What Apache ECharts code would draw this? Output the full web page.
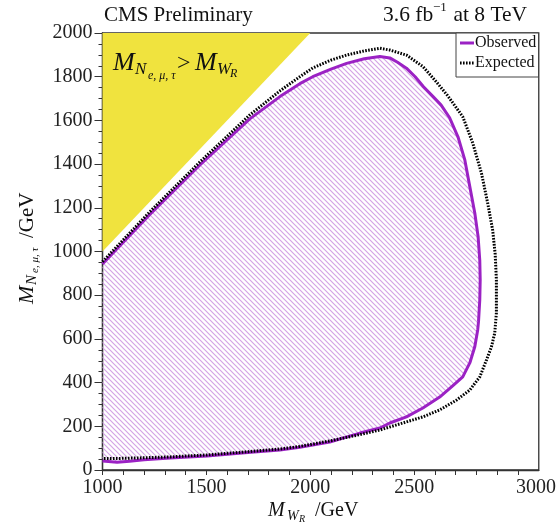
<!DOCTYPE html>
<html>
<head>
<meta charset="utf-8">
<script src="https://cdn.jsdelivr.net/npm/echarts@6/dist/echarts.min.js"></script>
<style>
  html, body { margin: 0; padding: 0; background: #fff; }
  #chart { width: 559px; height: 529px; }
</style>
</head>
<body>
<div id="chart"></div>
<script>
// Axis ticks and labels
const xLabelValues = [1000, 1500, 2000, 2500, 3000];
const xTickValues = [1000, 1100, 1200, 1300, 1400, 1500, 1600, 1700, 1800, 1900, 2000,
                     2100, 2200, 2300, 2400, 2500, 2600, 2700, 2800, 2900, 3000];
const yLabelValues = [0, 200, 400, 600, 800, 1000, 1200, 1400, 1600, 1800, 2000];

// Kinematically forbidden corner: M_N > M_WR
const forbiddenCorner = [[1000, 1000], [1000, 2000], [2000, 2000]];

// Observed 95% CL exclusion contour (M_WR, M_N) in GeV
const observed = [
  [1000, 943], [1228, 1170], [1469, 1396], [1709, 1607], [1854, 1709],
  [1950, 1768], [2012, 1800], [2100, 1835], [2175, 1861], [2260, 1882],
  [2335, 1892], [2383, 1886], [2420, 1866], [2463, 1839], [2505, 1800],
  [2545, 1754], [2590, 1710], [2630, 1670], [2671, 1612], [2711, 1525],
  [2744, 1419], [2768, 1297], [2792, 1176], [2808, 1068], [2816, 960],
  [2818, 870], [2816, 778], [2810, 680], [2806, 641], [2792, 564],
  [2768, 490], [2734, 426], [2680, 380], [2623, 334], [2542, 284],
  [2463, 243], [2383, 215], [2335, 192], [2239, 169], [2094, 128],
  [1950, 104], [1854, 92], [1700, 80], [1503, 64], [1325, 55],
  [1200, 47], [1130, 40], [1070, 36], [1000, 41]
];

// Expected 95% CL exclusion contour (M_WR, M_N) in GeV
const expected = [
  [1000, 953], [1228, 1182], [1469, 1410], [1709, 1625], [1854, 1735],
  [1950, 1800], [2012, 1840], [2100, 1876], [2175, 1899], [2260, 1918],
  [2335, 1930], [2383, 1922], [2463, 1899], [2543, 1846], [2608, 1775],
  [2660, 1715], [2734, 1617], [2782, 1497], [2824, 1359], [2854, 1222],
  [2878, 1098], [2890, 990], [2896, 870], [2896, 719], [2888, 627],
  [2872, 563], [2848, 503], [2816, 426], [2768, 366], [2704, 320],
  [2623, 275], [2542, 243], [2463, 220], [2383, 197], [2335, 183],
  [2239, 162], [2094, 133], [1950, 108], [1854, 96], [1700, 84],
  [1503, 69], [1325, 60], [1200, 56], [1084, 53], [1000, 53]
];

const SERIF = '"Liberation Serif", "DejaVu Serif", serif';
const PURPLE = '#9b22c4';
const YELLOW = 'rgb(240, 227, 62)';
const DOTS = [1.6, 1.4];

// Diagonal hatch tile used to fill the excluded region
function hatchTile() {
  const s = 5;
  const c = document.createElement('canvas');
  c.width = s; c.height = s;
  const g = c.getContext('2d');
  g.strokeStyle = 'rgb(212, 164, 230)';
  g.lineWidth = 1.2;
  g.beginPath();
  g.moveTo(-1, -1); g.lineTo(s + 1, s + 1);
  g.moveTo(s - 1, -1); g.lineTo(s + 1, 1);
  g.moveTo(-1, s - 1); g.lineTo(1, s + 1);
  g.stroke();
  return c;
}
const hatch = hatchTile();

function polygonSeries(points, style, z) {
  return {
    type: 'custom',
    coordinateSystem: 'cartesian2d',
    data: [[points[0][0], points[0][1]]],
    silent: true,
    z: z,
    renderItem: function (params, api) {
      return {
        type: 'polygon',
        shape: { points: points.map(p => api.coord(p)) },
        style: style
      };
    }
  };
}

function txt(x, y, s, size, extra) {
  return {
    type: 'text', x: x, y: y, silent: true, z: 100,
    style: Object.assign({
      text: s, fontSize: size, fontFamily: SERIF, fill: '#111',
      textAlign: 'left', textVerticalAlign: 'middle'
    }, extra || {})
  };
}
function itxt(x, y, s, size, extra) {
  return txt(x, y, s, size, Object.assign({ fontStyle: 'italic' }, extra || {}));
}

const chart = echarts.init(document.getElementById('chart'), null, { renderer: 'canvas' });

const option = {
  animation: false,
  backgroundColor: '#fff',
  grid: {
    left: 102.5, right: 20, top: 33, bottom: 59,
    show: true, borderColor: '#333', borderWidth: 1.3, backgroundColor: 'transparent'
  },
  xAxis: {
    type: 'value', min: 1000, max: 3100, interval: 500,
    axisLine: { show: true, lineStyle: { color: '#333', width: 1.3 } },
    axisTick: { show: true, length: 5, customValues: xTickValues, lineStyle: { color: '#333', width: 1 } },
    minorTick: { show: false },
    splitLine: { show: false },
    axisLabel: {
      customValues: xLabelValues,
      margin: 8, color: '#222', fontSize: 20, fontFamily: SERIF,
      formatter: function (v) { return v === 3000 ? '{edge|3000}' : String(v); },
      rich: { edge: { fontSize: 20, fontFamily: SERIF, color: '#222', padding: [0, 0, 0, 36] } }
    }
  },
  yAxis: {
    type: 'value', min: 0, max: 2000, interval: 200,
    axisLine: { show: true, lineStyle: { color: '#333', width: 1.3 } },
    axisTick: { show: true, length: 8, lineStyle: { color: '#333', width: 1 } },
    minorTick: { show: true, splitNumber: 4, length: 4, lineStyle: { color: '#333', width: 1 } },
    splitLine: { show: false },
    axisLabel: {
      customValues: yLabelValues,
      margin: 10, color: '#222', fontSize: 20, fontFamily: SERIF,
      formatter: function (v) { return String(v); }
    }
  },
  series: [
    polygonSeries(forbiddenCorner, { fill: YELLOW, stroke: 'none' }, 1),
    polygonSeries(observed, { fill: { type: 'pattern', image: hatch, repeat: 'repeat' }, stroke: 'none' }, 1),
    {
      name: 'Observed', type: 'line', data: observed, symbol: 'none', showSymbol: false,
      lineStyle: { color: PURPLE, width: 3 }, itemStyle: { color: PURPLE }, z: 3
    },
    {
      name: 'Expected', type: 'line', data: expected, symbol: 'none', showSymbol: false,
      lineStyle: { color: '#000', width: 3, type: DOTS }, itemStyle: { color: '#000' }, z: 4
    }
  ],
  graphic: [
    // header
    txt(104, 15, 'CMS Preliminary', 21),
    txt(383, 15, '3.6 fb', 21.5),
    txt(433, 8, '\u22121', 13),
    txt(448, 15, ' at 8 TeV', 21.5),
    // forbidden-region label
    itxt(113, 63, 'M', 26),
    itxt(135, 70, 'N', 17),
    itxt(148, 76, 'e, \u03bc, \u03c4', 12),
    txt(177, 64, '>', 24),
    itxt(195, 63, 'M', 26),
    itxt(217, 70, 'W', 17),
    itxt(230, 74, 'R', 12),
    // legend
    {
      type: 'rect', z: 100, silent: true,
      shape: { x: 456, y: 33, width: 82.5, height: 44 },
      style: { fill: '#fff', stroke: '#444', lineWidth: 1 }
    },
    {
      type: 'line', z: 101, silent: true,
      shape: { x1: 460, y1: 43, x2: 474, y2: 43 },
      style: { stroke: PURPLE, lineWidth: 3 }
    },
    txt(475, 43, 'Observed', 16),
    {
      type: 'line', z: 101, silent: true,
      shape: { x1: 460, y1: 63, x2: 474, y2: 63 },
      style: { stroke: '#000', lineWidth: 3, lineDash: DOTS }
    },
    txt(475, 63, 'Expected', 16),
    // x axis title
    itxt(268, 511, 'M', 20),
    itxt(287, 516, 'W', 14),
    itxt(299, 519, 'R', 10),
    txt(315, 511, '/GeV', 20),
    // y axis title, rotated to read upward
    {
      type: 'group', x: 27, y: 304, rotation: Math.PI / 2, silent: true, z: 100,
      children: [
        itxt(0, 0, 'M', 22),
        itxt(19, 5, 'N', 15),
        itxt(31, 8, 'e, \u03bc, \u03c4', 11),
        txt(66, 0, '/GeV', 21)
      ]
    }
  ]
};

chart.setOption(option);
</script>
</body>
</html>
